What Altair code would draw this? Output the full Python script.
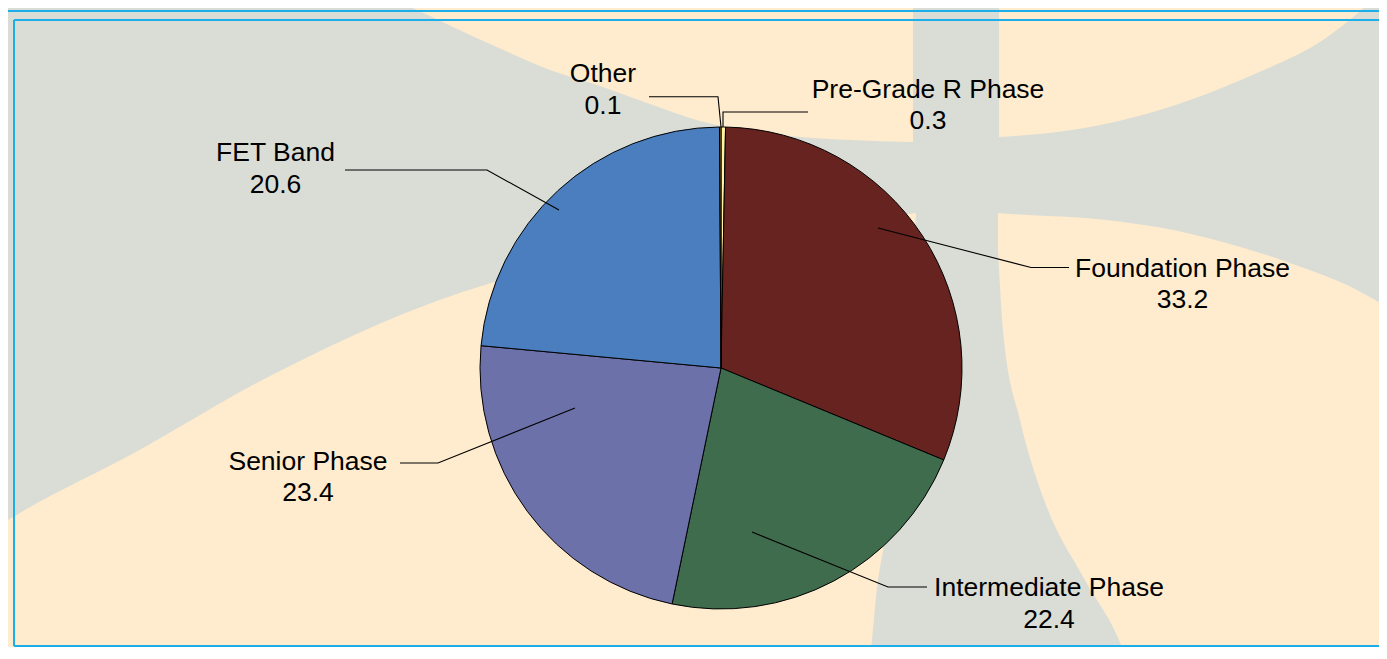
import altair as alt
import pandas as pd

# ---------------- data ----------------
categories = ["Pre-Grade R Phase", "Foundation Phase", "Intermediate Phase",
              "Senior Phase", "FET Band", "Other"]
label_values = [0.3, 33.2, 22.4, 23.4, 20.6, 0.1]          # numbers printed on the labels
slice_shares = [0.3, 30.9, 22.0, 23.2, 23.4, 0.1]          # angular share of each slice as drawn

# ---------------- style / layout ----------------
slice_colors = ["#FFF3A6", "#67231F", "#3F6C4D", "#6C71AA", "#4A7EBE", "#B07A1C"]
GREY = "#DADDD6"
BEIGE = "#FFEBCD"
BLUE = "#1BAEE8"
FONT = "Liberation Sans"

W, H = 1371, 639            # plot area, page pixels 8..1379 x 8..647
PIE_CX, PIE_CY, PIE_R = 721, 368, 241

label_x = [928, 1182.5, 1049, 308, 275.5, 603]
label_y = [97.5, 276.5, 596, 469.5, 161, 82]
leader_x = [[723, 723, 808], [878, 1031, 1069], [752, 888, 927],
            [575, 438, 400], [559, 487, 345], [721, 718, 649]]
leader_y = [[127, 112, 112], [228, 267.5, 267.5], [532, 587, 587],
            [408, 463, 463], [210, 170, 170], [127, 96.7, 96.7]]

# decorative background petals (x, top, bottom)
petals = {
    "tc": ([395, 430, 470, 510, 550, 600, 650, 700, 750, 800, 850, 913],
           [0] * 12,
           [0, 16, 35, 53, 70, 86, 104, 121, 131, 137, 140, 142]),
    "tr": ([999, 1057, 1123, 1190, 1257, 1323, 1373],
           [0] * 7,
           [137, 132, 120, 100, 73, 40, 0]),
    "rm": ([998, 1003, 1020, 1037, 1048, 1085, 1123, 1130, 1157, 1223, 1290, 1357, 1387],
           [213, 213.5, 214.5, 215.5, 216, 218, 222, 223, 227, 242, 263, 290, 307],
           [250, 330, 420, 480, 510, 580, 650, 670, 670, 670, 670, 670, 670]),
    "bc": ([0, 13, 134, 268, 491, 600, 700, 800, 867, 878, 890, 903, 916],
           [525, 517, 453, 377, 283, 258, 240, 225, 218, 217, 216, 214.5, 213],
           [670, 670, 670, 670, 670, 670, 670, 670, 670, 580, 510, 380, 215]),
}
BOTTOM_LINE = 8 + H - 1
borders = [  # x1, x2, y1, y2
    (8, 1387, 11, 11),
    (14, 1387, 20, 20),
    (14, 14, 20, BOTTOM_LINE),
    (14, 1387, BOTTOM_LINE, BOTTOM_LINE),
]

xs = alt.Scale(domain=[8, 8 + W], nice=False, zero=False)
ys = alt.Scale(domain=[8, 8 + H], nice=False, zero=False, reverse=True)

# ---------------- tables ----------------
bg_rows = []
for name, (px, pt, pb) in petals.items():
    for a, b, c in zip(px, pt, pb):
        bg_rows.append({"petal": name, "x": a, "y": b, "y2": c})
bg_df = pd.DataFrame(bg_rows)

border_df = pd.DataFrame(borders, columns=["x1", "x2", "y1", "y2"])

pie_df = pd.DataFrame({
    "category": categories,
    "share": slice_shares,
    "idx": list(range(len(categories))),
    "cx": [PIE_CX] * len(categories),
    "cy": [PIE_CY] * len(categories),
})

lead_rows = []
for cat, lx, ly in zip(categories, leader_x, leader_y):
    for i, (a, b) in enumerate(zip(lx, ly)):
        lead_rows.append({"category": cat, "idx": i, "x": a, "y": b})
lead_df = pd.DataFrame(lead_rows)

text_df = pd.DataFrame({
    "category": categories,
    "label": [f"{c}\n{v:.1f}" for c, v in zip(categories, label_values)],
    "x": label_x,
    "y": label_y,
})

# ---------------- layers ----------------
bg = alt.Chart(bg_df).mark_area(interpolate="monotone", color=BEIGE, clip=True).encode(
    x=alt.X("x:Q", scale=xs, axis=None),
    y=alt.Y("y:Q", scale=ys, axis=None, stack=None),
    y2="y2:Q",
    detail="petal:N",
)

border_layer = alt.Chart(border_df).mark_rule(color=BLUE, strokeWidth=2, clip=True).encode(
    x=alt.X("x1:Q", scale=xs, axis=None),
    x2="x2:Q",
    y=alt.Y("y1:Q", scale=ys, axis=None),
    y2="y2:Q",
)

pie = alt.Chart(pie_df).mark_arc(outerRadius=PIE_R, stroke="black", strokeWidth=1).encode(
    theta=alt.Theta("share:Q", stack=True),
    order=alt.Order("idx:Q"),
    color=alt.Color("category:N", scale=alt.Scale(domain=categories, range=slice_colors), legend=None),
    x=alt.X("cx:Q", scale=xs, axis=None),
    y=alt.Y("cy:Q", scale=ys, axis=None),
)

leaders = alt.Chart(lead_df).mark_line(color="black", strokeWidth=1.1).encode(
    x=alt.X("x:Q", scale=xs, axis=None),
    y=alt.Y("y:Q", scale=ys, axis=None),
    detail="category:N",
    order="idx:Q",
)

labels = alt.Chart(text_df).mark_text(
    font=FONT, fontSize=26.5, lineBreak="\n", lineHeight=31.5,
    align="center", baseline="alphabetic", color="black",
).encode(
    x=alt.X("x:Q", scale=xs, axis=None),
    y=alt.Y("y:Q", scale=ys, axis=None),
    text="label:N",
)

chart = alt.layer(bg, border_layer, pie, leaders, labels).properties(
    width=W, height=H,
    autosize=alt.AutoSizeParams(type="fit", contains="padding"),
    padding=0,
    background=GREY,
).configure_view(stroke=None, fill=GREY)

chart.save("out.html", embed_options={"renderer": "svg", "actions": False})
